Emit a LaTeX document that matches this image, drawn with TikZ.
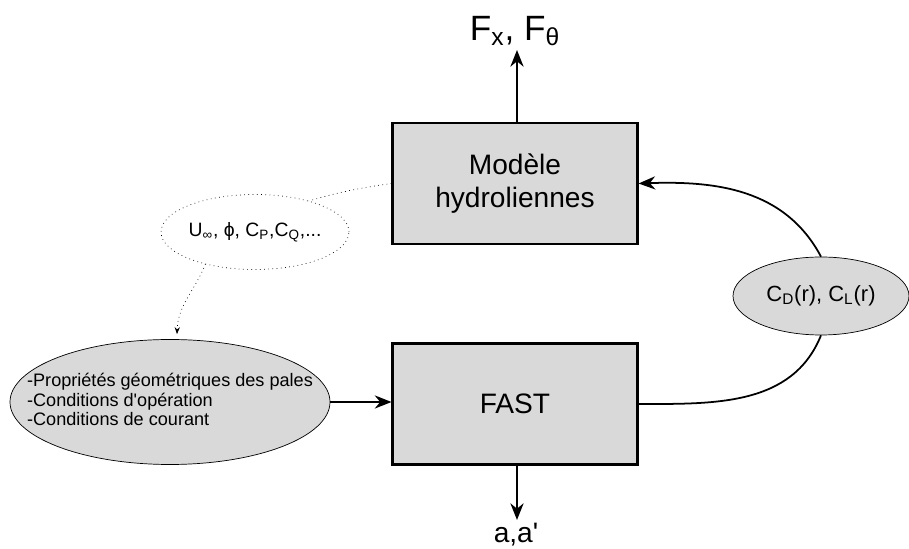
\documentclass[tikz,border=0pt]{standalone}
\usepackage{fontspec}
\setmainfont{Liberation Sans}
\usetikzlibrary{arrows.meta,shapes.geometric}

\begin{document}
\begin{tikzpicture}[
  >={Stealth[length=9.5pt,width=7.5pt]},
  % ---- node styles ----
  blockbox/.style={
    draw=black, fill=black!15, line width=1.2pt,
    minimum width=4.9cm, minimum height=2.42cm,
    align=center, font=\fontsize{16}{19}\selectfont
  },
  inputell/.style={
    ellipse, draw=black, fill=black!15, thin,
    minimum width=6.4cm, minimum height=2.5cm, inner sep=0pt
  },
  coefell/.style={
    ellipse, draw=black, fill=black!15, thin,
    minimum width=3.52cm, minimum height=1.56cm, inner sep=0pt,
    font=\fontsize{12.5}{14}\selectfont
  },
  paramell/.style={
    ellipse, draw=black, dotted, thin,
    minimum width=3.72cm, minimum height=1.5cm, inner sep=0pt,
    font=\fontsize{11}{13}\selectfont
  },
  flow/.style={->, line width=1.2pt},
  outlabel/.style={font=\fontsize{16}{19}\selectfont},
]
\useasboundingbox (0,0) rectangle (18.18,-10.98);

% ---- blocks ----
\node[blockbox] (model) at (10.3, -3.67) {Modèle\\hydroliennes};
\node[blockbox] (fast)  at (10.3, -8.08) {FAST};

% ---- ellipses ----
\node[inputell] (inputs) at (3.4, -8.04) {};
\node[align=left, font=\fontsize{10.3}{11.1}\selectfont] (inputtxt) at (3.4, -7.99)
  {-Propriétés géométriques des pales\\-Conditions d\textquotesingle opération\\-Conditions de courant};
\node[coefell]  (coefs)  at (16.42, -5.92) {C\textsubscript{D}(r), C\textsubscript{L}(r)};
\node[paramell] (params) at (5.1, -4.64)
  {U\textsubscript{∞}, ϕ, C\textsubscript{P},C\textsubscript{Q},...};

% ---- outputs ----
\node[font=\fontsize{20}{24}\selectfont] (forces) at (10.3, -0.62)
  {F\textsubscript{x}, F\textsubscript{θ}};
\node[outlabel] (induc) at (10.32, -10.7) {a,a\textquotesingle};
\coordinate (ftop) at (10.34, -1.0);
\coordinate (fbot) at (10.34, -10.4);

% ---- connectors ----
\draw[flow] (model.north -| ftop) -- (ftop);
\draw[flow] (fast.south -| fbot) -- (fbot);
\draw[flow] (inputs.east) -- (fast.west |- inputs.east);
\draw[line width=1pt] (fast.east) to[out=0, in=-112] (coefs.south);
\draw[flow, line width=1pt] (coefs.north) to[out=118, in=2] (model.east);
\draw[dotted, thin] (model.west) to[bend right=4] (params.30);
\draw[->, >={Stealth[length=4pt,width=3pt]}, dotted, thin]
  (params.213) to[out=-112, in=88] ([xshift=1.4mm,yshift=1mm]inputs.north);

\end{tikzpicture}
\end{document}
